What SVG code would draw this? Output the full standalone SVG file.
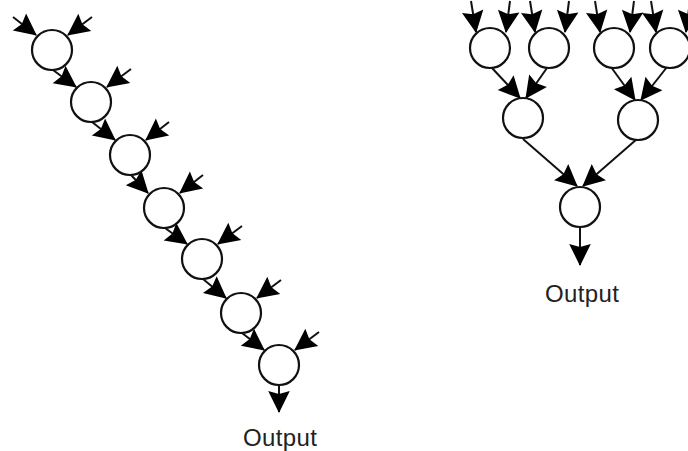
<svg xmlns="http://www.w3.org/2000/svg" width="688" height="451" viewBox="0 0 688 451">
<style>
.n{fill:#fff;stroke:#111;stroke-width:2.2}
.c{stroke:#111;stroke-width:2;fill:none;marker-end:url(#ah)}
.t{font-family:"Liberation Sans",Arial,sans-serif;font-size:24px;fill:#222}
</style>
<defs>
<marker id="ah" viewBox="-13 -7 14 14" markerWidth="14" markerHeight="14" refX="0" refY="0" orient="auto" markerUnits="strokeWidth" overflow="visible">
<path d="M0.5,0 L-10.5,-5.4 L-9,0 L-10.5,5.4 Z" fill="#000"/>
</marker>
</defs>
<rect width="688" height="451" fill="#fff"/>
<g id="connectors">
<line class="c" x1="13" y1="17" x2="36" y2="35"/>
<line class="c" x1="92" y1="17" x2="68" y2="35"/>
<line class="c" x1="53" y1="70" x2="76" y2="87"/>
<line class="c" x1="131" y1="69" x2="107" y2="87"/>
<line class="c" x1="92" y1="122" x2="115" y2="140"/>
<line class="c" x1="169" y1="122" x2="146" y2="140"/>
<line class="c" x1="131" y1="175" x2="148" y2="193"/>
<line class="c" x1="203" y1="175" x2="180" y2="193"/>
<line class="c" x1="165" y1="228" x2="187" y2="244"/>
<line class="c" x1="242" y1="226" x2="218" y2="244"/>
<line class="c" x1="203" y1="279" x2="226" y2="298"/>
<line class="c" x1="281" y1="280" x2="257" y2="298"/>
<line class="c" x1="242" y1="333" x2="264" y2="350"/>
<line class="c" x1="319" y1="332" x2="295" y2="350"/>
<line class="c" x1="279" y1="385" x2="279" y2="412"/>
<line class="c" x1="471" y1="1" x2="476" y2="32"/>
<line class="c" x1="510" y1="1" x2="506" y2="32"/>
<line class="c" x1="530" y1="1" x2="535" y2="32"/>
<line class="c" x1="569" y1="1" x2="565" y2="32"/>
<line class="c" x1="595" y1="1" x2="600" y2="32"/>
<line class="c" x1="634" y1="1" x2="630" y2="32"/>
<line class="c" x1="651" y1="1" x2="656" y2="32"/>
<line class="c" x1="690" y1="1" x2="686" y2="32"/>
<line class="c" x1="492" y1="68" x2="520" y2="98"/>
<line class="c" x1="547" y1="68" x2="526" y2="98"/>
<line class="c" x1="611" y1="67" x2="635" y2="100"/>
<line class="c" x1="667" y1="67" x2="641" y2="100"/>
<line class="c" x1="523" y1="139" x2="577" y2="186"/>
<line class="c" x1="637" y1="139" x2="583" y2="186"/>
<line class="c" x1="580" y1="227" x2="580" y2="265"/>
</g>
<g id="L1"><circle class="n" cx="52" cy="50" r="20"/></g>
<g id="L2"><circle class="n" cx="91" cy="102" r="20"/></g>
<g id="L3"><circle class="n" cx="130" cy="155" r="20"/></g>
<g id="L4"><circle class="n" cx="164" cy="208" r="20"/></g>
<g id="L5"><circle class="n" cx="202" cy="259" r="20"/></g>
<g id="L6"><circle class="n" cx="241" cy="313" r="20"/></g>
<g id="L7"><circle class="n" cx="279" cy="365" r="20"/></g>
<g id="R1"><circle class="n" cx="490" cy="48" r="20"/></g>
<g id="R2"><circle class="n" cx="549" cy="48" r="20"/></g>
<g id="R3"><circle class="n" cx="614" cy="48" r="20"/></g>
<g id="R4"><circle class="n" cx="670" cy="48" r="20"/></g>
<g id="R5"><circle class="n" cx="523" cy="118" r="20"/></g>
<g id="R6"><circle class="n" cx="638" cy="120" r="20"/></g>
<g id="R7"><circle class="n" cx="580" cy="207" r="20"/></g>
<g id="outL"><text class="t" x="243" y="446" textLength="74">Output</text></g>
<g id="outR"><text class="t" x="545" y="302" textLength="74">Output</text></g>
</svg>
